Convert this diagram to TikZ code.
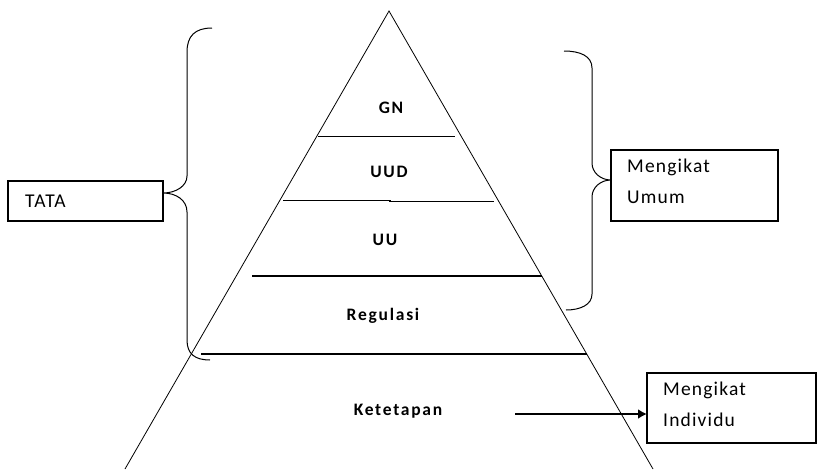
\documentclass[tikz,border=0pt]{standalone}
\usepackage{fontspec}
\setmainfont{Carlito}
\newfontfamily\lblfont[LetterSpace=10]{Carlito}
\newfontfamily\boxfont[LetterSpace=6]{Carlito}
\usetikzlibrary{arrows.meta}
\begin{document}
\begin{tikzpicture}[x=1pt,y=-1pt,
  layer/.style={line width=1.1pt},
  side/.style={line width=0.8pt},
  lbl/.style={font=\lblfont\bfseries\fontsize{17.5}{20}\selectfont, inner sep=0pt},
  boxtxt/.style={font=\boxfont\fontsize{19.5}{31}\selectfont, align=left, inner sep=0pt},
  frame/.style={draw, line width=1.3pt},
  brace/.style={line width=1pt}
]
\useasboundingbox (0,0) rectangle (817,469);
% pyramid sides
\coordinate (apex) at (389,11);
\coordinate (bl) at (125,469);
\coordinate (br) at (653,469);
\draw[side] (bl) -- (apex) -- (br);
% layers
\draw[layer] (318,136.5) -- (455,136.5);
\draw[layer] (283,200.5) -- (390,200.5) -- (390,201.8) -- (494,201.8);
\draw[layer] (252,276) -- (542,276);
\draw[layer] (201,354) -- (587,354);
% labels
\node[lbl] (gn) at (391,108) {GN};
\node[lbl] (uud) at (389,172) {UUD};
\node[lbl] (uu) at (385,240) {UU};
\node[lbl] (reg) at (383,316) {Regulasi};
\node[lbl] (ket) at (398,411) {Ketetapan};
% boxes
\draw[frame] (8,181) rectangle (163,221);
\node[boxtxt, anchor=west] (tata) at (25,201.5) {TATA};
\coordinate (tatatip) at (163,193);
\draw[frame] (611,150) rectangle (778,221);
\node[boxtxt, anchor=north west] (umum) at (627,159) {Mengikat\\Umum};
\coordinate (umumtip) at (611,180);
\draw[frame] (647,373) rectangle (816,443);
\node[boxtxt, anchor=north west] (indiv) at (663,382) {Mengikat\\Individu};
\coordinate (indivleft) at (647,414);
% left brace
\draw[brace] (212,28) .. controls (195,28) and (187,36) .. (187,52)
  -- (187,176) .. controls (187,186) and (176,193) .. (tatatip)
  .. controls (176,193) and (187,200) .. (187,212)
  -- (187,340) .. controls (187,354) and (195,360) .. (210,360);
% right brace
\draw[brace] (564,51) .. controls (580,51) and (592,56) .. (592,68)
  -- (592,163) .. controls (592,172) and (600,180) .. (umumtip)
  .. controls (600,180) and (592,188) .. (592,197)
  -- (592,294) .. controls (592,305) and (580,310) .. (566,310);
% arrow
\coordinate (arrstart) at (515,414);
\draw[line width=2.8pt, -{Latex[length=9pt,width=10pt]}] (arrstart) -- (indivleft);
\end{tikzpicture}
\end{document}
